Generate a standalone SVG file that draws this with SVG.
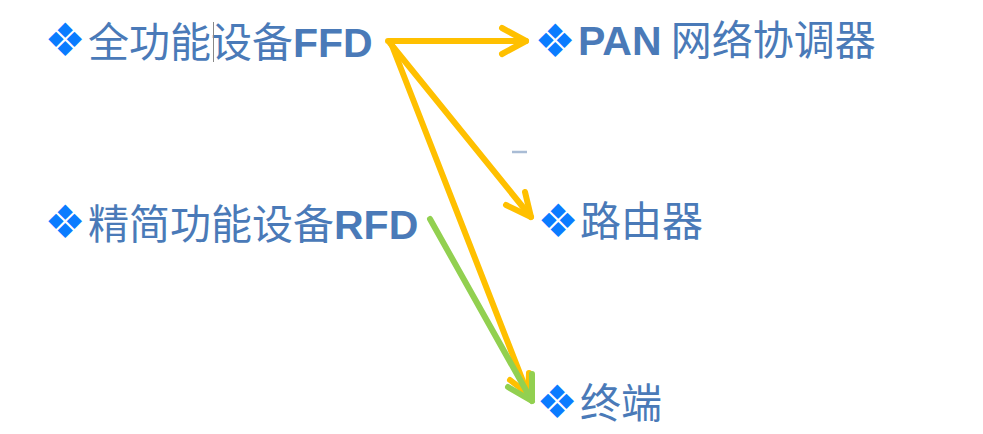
<svg xmlns="http://www.w3.org/2000/svg" width="983" height="434" viewBox="0 0 983 434">
<style>
.t{font-family:"Noto Sans CJK SC","Liberation Sans",sans-serif;font-size:41px;fill:#4a7ab8}
.b{font-family:"Liberation Sans",Arial,sans-serif;font-weight:bold}
.bl{font-family:"DejaVu Sans",sans-serif;font-size:46px;fill:#0a7cff}
.y{fill:none;stroke:#ffc000;stroke-width:6;stroke-linecap:round;stroke-linejoin:round}
.g{fill:none;stroke:#92d050;stroke-width:6;stroke-linecap:round;stroke-linejoin:round}
</style>
<rect width="983" height="434" fill="#fff"/>
<g id="ffd">
<text class="bl" x="65" y="56" text-anchor="middle">❖</text>
<text class="t" x="88" y="57">全功能设备<tspan class="b">FFD</tspan></text>
<line x1="213.5" y1="22" x2="213.5" y2="62" stroke="#888" stroke-width="1"/>
</g>
<g id="rfd">
<text class="bl" x="65" y="238" text-anchor="middle">❖</text>
<text class="t" x="88" y="239">精简功能设备<tspan class="b">RFD</tspan></text>
</g>
<g id="pan">
<text class="bl" x="555" y="57" text-anchor="middle">❖</text>
<text class="t" x="578" y="55"><tspan class="b">PAN</tspan> 网络协调器</text>
</g>
<g id="router">
<text class="bl" x="558" y="237" text-anchor="middle">❖</text>
<text class="t" x="580" y="236">路由器</text>
</g>
<g id="end">
<text class="bl" x="557" y="418" text-anchor="middle">❖</text>
<text class="t" x="580" y="418">终端</text>
</g>
<line x1="512" y1="152" x2="527" y2="152" stroke="#a9bcd5" stroke-width="2.5"/>
<g id="connectors">
<line class="y" x1="388" y1="41" x2="526" y2="41"/>
<polyline class="y" points="502,28 526,41 502,54"/>
<line class="y" x1="390" y1="43" x2="531" y2="217"/>
<polyline class="y" points="525,192 531,217 506,205"/>
<line class="y" x1="391" y1="43" x2="528" y2="394"/>
<polyline class="y" points="529,373 528,394 510,380"/>
<line class="g" x1="430" y1="219" x2="532" y2="401"/>
<polyline class="g" points="532,374 532,401 508,387"/>
</g>
</svg>
